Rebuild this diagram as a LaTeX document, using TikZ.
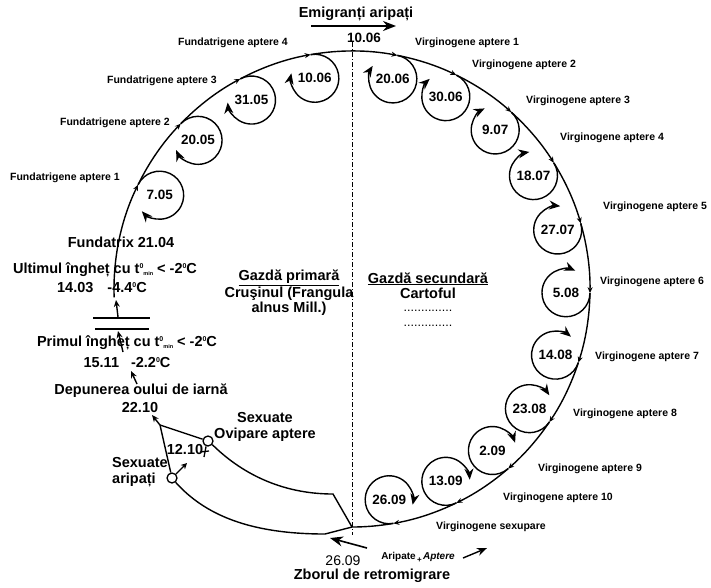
\documentclass[tikz,border=0pt]{standalone}
\usepackage{fontspec}
\setmainfont{Liberation Sans}
\usetikzlibrary{arrows.meta}
\newcommand{\tmin}{t\raisebox{5pt}{\fontsize{7}{7}\selectfont 0}\raisebox{-2pt}{\fontsize{5.5}{6}\selectfont min}}
\newcommand{\grad}{\raisebox{5pt}{\fontsize{7}{7}\selectfont 0}}
\tikzstyle{generatie}=[font=\fontsize{10.5}{12}\selectfont\bfseries,inner sep=0pt]
\tikzstyle{data}=[font=\fontsize{13.5}{15}\selectfont\bfseries,inner sep=0pt]
\tikzstyle{titlu}=[font=\fontsize{14.5}{15.5}\selectfont\bfseries,inner sep=0pt,align=center]
\tikzstyle{cerc}=[line width=1.4pt,-{Stealth[length=6pt,width=5pt]}]
\tikzstyle{bucla}=[line width=1.4pt,-{Stealth[length=11pt,width=9pt]}]
\tikzstyle{sageata}=[line width=1.4pt,-{Stealth[length=7pt,width=6pt]}]
\tikzstyle{sageatamare}=[line width=1.6pt,-{Stealth[length=13pt,width=10pt]}]
\tikzstyle{sex}=[circle,draw,line width=1.3pt,minimum size=10pt,inner sep=0pt]

\begin{document}
\begin{tikzpicture}[x=1pt,y=-1pt]
\useasboundingbox (0,0) rectangle (711,587);
\coordinate (C) at (352,289);
% axa dintre gazde
\draw[line width=0.7pt,dash pattern=on 5pt off 2pt on 1pt off 2pt] (352,42) -- (352,535);

% ciclul pe cele doua gazde
\foreach \ang/\urm in {178/206,206/224,224/242,242/260,260/281,281/296,296/312,312/328,328/344,344/361,361/378,378/394,394/409,409/424,424/440}
  \draw[cerc] ([shift={(\ang:238)}]C) arc[start angle=\ang,end angle=\urm,radius=238];
\draw[line width=1.4pt] ([shift={(440:238)}]C) arc[start angle=440,end angle=450,radius=238] coordinate (J);

% generatiile
\foreach \ang/\zi in {206/7.05,224/20.05,242/31.05,260/10.06,281/20.06,296/30.06,312/9.07,328/18.07,344/27.07,361/5.08,378/14.08,394/23.08,409/2.09,424/13.09,440/26.09}{
  \draw[bucla] ([shift={(\ang:238)}]C) arc[start angle=\ang,delta angle=292,radius=24];
  \node[data] (d\ang) at ([shift={(\ang:214)}]C) {\zi};
}
\node[generatie,anchor=east] (f1) at (120,178) {Fundatrigene aptere 1};
\node[generatie,anchor=east] (f2) at (170,123) {Fundatrigene aptere 2};
\node[generatie,anchor=east] (f3) at (217,81) {Fundatrigene aptere 3};
\node[generatie,anchor=east] (f4) at (288,43) {Fundatrigene aptere 4};
\node[generatie,anchor=west] (v1) at (415,43) {Virginogene aptere 1};
\node[generatie,anchor=west] (v2) at (472,65) {Virginogene aptere 2};
\node[generatie,anchor=west] (v3) at (526,101) {Virginogene aptere 3};
\node[generatie,anchor=west] (v4) at (560,138) {Virginogene aptere 4};
\node[generatie,anchor=west] (v5) at (603,207) {Virginogene aptere 5};
\node[generatie,anchor=west] (v6) at (600,282) {Virginogene aptere 6};
\node[generatie,anchor=west] (v7) at (595,357) {Virginogene aptere 7};
\node[generatie,anchor=west] (v8) at (573,414) {Virginogene aptere 8};
\node[generatie,anchor=west] (v9) at (538,469) {Virginogene aptere 9};
\node[generatie,anchor=west] (v10) at (503,498) {Virginogene aptere 10};
\node[generatie,anchor=west] (vs) at (436,527) {Virginogene sexupare};

% emigrantii
\node[titlu] (emig) at (356,14) {Emigranți aripați};
\coordinate (e1) at (311,26);
\coordinate (e2) at (396,26);
\draw[sageatamare] (e1) -- (e2);
\node[data] (zbor1) at (364,38) {10.06};

% gazdele
\node[titlu] (gp) at (289,293) {\underline{Gazdă primară}\\Cruşinul (Frangula\\alnus Mill.)};
\node[titlu] (gs) at (428,285.5) {\underline{Gazdă secundară}\\Cartoful};
\node[inner sep=0pt,font=\fontsize{12.5}{14}\selectfont] (p1) at (428,311) {..............};
\node[inner sep=0pt,font=\fontsize{12.5}{14}\selectfont] (p2) at (428,326) {..............};

% iernarea
\node[titlu] (fx) at (121,242) {Fundatrix 21.04};
\node[titlu] (ult) at (105,270) {Ultimul îngheț cu \tmin{} < -2\grad C};
\node[titlu] (ult2) at (102,288) {14.03\hspace{14pt}-4.4\grad C};
\draw[line width=1.4pt] (93,318) coordinate (b1) -- (150,318);
\draw[line width=1.4pt] (95,329) coordinate (b2) -- (149,329);
\coordinate (a1) at (118,317);
\coordinate (a2) at (116,300);
\draw[sageata] (a1) -- (a2);
\coordinate (a3) at (123,352);
\coordinate (a4) at (118,331);
\draw[sageata] (a3) -- (a4);
\node[titlu] (prim) at (127,343) {Primul îngheț cu \tmin{} < -2\grad C};
\node[titlu] (prim2) at (127,362) {15.11\hspace{12pt}-2.2\grad C};
\coordinate (a5) at (137,384);
\coordinate (a6) at (131,371);
\draw[sageata] (a5) -- (a6);
\node[titlu] (dep) at (141,391) {Depunerea oului de iarnă};
\node[titlu] (dep2) at (140,407) {22.10};

% sexuatele
\node[sex] (fem) at (208,441) {};
\node[sex] (mas) at (172,478) {};
\draw[line width=1.3pt] (fem.-110) -- (204,457);
\draw[line width=1.3pt] (200,452) -- (209,451);
\draw[line width=1.3pt,-{Stealth[length=6pt,width=6pt]}] (mas.45) -- (187,463);
\coordinate (jt) at (160,425);
\coordinate (vf) at (152,415);
\draw[sageata] (mas) -- (jt) -- (vf);
\draw[line width=1.4pt] (fem) -- (jt);
\draw[line width=1.4pt] (fem.-40) .. controls (240,472) and (280,494) .. (333,494) -- (J);
\draw[line width=1.4pt] (mas.-50) .. controls (205,515) and (250,534) .. (325,534) -- (J);
\node[titlu] (sx1) at (265,427) {Sexuate\\Ovipare aptere};
\node[titlu] (d1210) at (185,449) {12.10};
\node[titlu,anchor=west,align=left] (sx2) at (112,472) {Sexuate\\aripați};

% retromigrarea
\coordinate (r1) at (367,548);
\coordinate (r2) at (330,538);
\draw[sageatamare] (r1) -- (r2);
\node[inner sep=0pt,font=\fontsize{14}{15}\selectfont] (ret) at (343,561) {26.09};
\node[titlu] (zbor2) at (372,576) {Zborul de retromigrare};
\node[inner sep=0pt,font=\fontsize{10}{12}\selectfont\bfseries] (forme) at (418,557) {Aripate\raisebox{-3pt}{\fontsize{8}{8}\selectfont\,+\,}\textit{Aptere}};
\coordinate (r3) at (463,558);
\coordinate (r4) at (487,548);
\draw[line width=1.4pt,-{Stealth[length=10pt,width=8pt]}] (r3) -- (r4);
\end{tikzpicture}
\end{document}
